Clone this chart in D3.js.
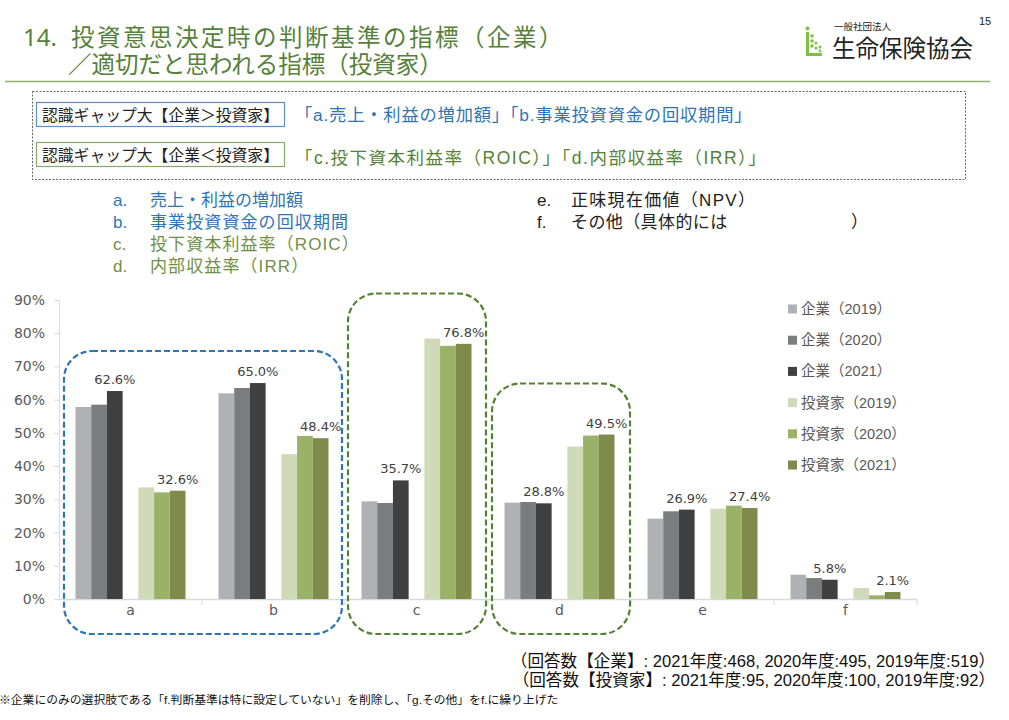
<!DOCTYPE html>
<html><head><meta charset="utf-8">
<script src="https://cdn.jsdelivr.net/npm/d3@7"></script>
<style>
body{margin:0;background:#fff;}
text{font-family:"Liberation Sans","Noto Sans CJK JP",sans-serif;}
</style></head>
<body><svg id="c" width="1009" height="720"></svg>
<script>
const categories = ["a","b","c","d","e","f"];
const seriesNames = ["企業（2019）","企業（2020）","企業（2021）","投資家（2019）","投資家（2020）","投資家（2021）"];
const corp2019 = [57.8, 61.9, 29.4, 29.0, 24.2, 7.3];
const corp2020 = [58.5, 63.5, 28.9, 29.2, 26.4, 6.3];
const corp2021 = [62.6, 65.0, 35.7, 28.8, 26.9, 5.8];
const inv2019 = [33.6, 43.6, 78.4, 45.9, 27.2, 3.3];
const inv2020 = [32.1, 49.1, 76.2, 49.2, 28.1, 1.1];
const inv2021 = [32.6, 48.4, 76.8, 49.5, 27.4, 2.1];
const yTicks = [0,10,20,30,40,50,60,70,80,90];
const colors = ["#b0b1b5","#7b7c7e","#404040","#cfdbb8","#9ab168","#7e8b4a"];
const slots = [0,1,2,4,5,6]; // empty slot 3 between groups
const labeled = [2,5];
const latin = "'DejaVu Sans','Noto Sans',sans-serif";

const svg = d3.select("#c");
const series = [corp2019,corp2020,corp2021,inv2019,inv2020,inv2021];

// ---- header ----
const tc = "#56813a";
svg.append("text").attr("x",23).attr("y",46).attr("font-size",24).attr("fill",tc)
  .style("font-family","'Noto Sans',sans-serif").text("14.");
svg.append("text").attr("x",71).attr("y",46).attr("font-size",23.5).attr("letter-spacing",2.5).attr("fill",tc)
  .text("投資意思決定時の判断基準の指標（企業）");
svg.append("text").attr("x",68).attr("y",73).attr("font-size",23.5).attr("letter-spacing",0).attr("fill",tc)
  .text("／適切だと思われる指標（投資家）");
svg.append("line").attr("x1",5).attr("x2",990).attr("y1",81.5).attr("y2",81.5)
  .attr("stroke","#8fb46e").attr("stroke-width",1.5);
svg.append("text").attr("x",979).attr("y",25).attr("font-size",11).attr("fill","#222").text("15");
// logo
const lg = svg.append("g").attr("fill","#7dc142");
lg.append("rect").attr("x",806).attr("y",32).attr("width",3).attr("height",24);
lg.append("rect").attr("x",806).attr("y",53).attr("width",16).attr("height",3);
[[807.5,28.5,2],[812,36,1.8],[812,41,1.8],[812,46,1.8],[816,43,1.6],[816,48,1.6],[820,47,1.4],[820,51,1.4]]
  .forEach(d=>lg.append("circle").attr("cx",d[0]).attr("cy",d[1]).attr("r",d[2]));
svg.append("text").attr("x",834).attr("y",30).attr("font-size",9.5).attr("fill","#222").text("一般社団法人");
svg.append("text").attr("x",832).attr("y",57).attr("font-size",23.5).attr("fill","#222").text("生命保険協会");

// ---- gap box ----
svg.append("rect").attr("x",32.5).attr("y",91.5).attr("width",933).attr("height",88)
  .attr("fill","none").attr("stroke","#666").attr("stroke-width",1).attr("stroke-dasharray","2,1.5");
svg.append("rect").attr("x",36.5).attr("y",102.5).attr("width",248).attr("height",24)
  .attr("fill","#fff").attr("stroke","#5b8fc7").attr("stroke-width",1.2);
svg.append("text").attr("x",42).attr("y",120.5).attr("font-size",15.8).attr("fill","#222").text("認識ギャップ大【企業＞投資家】");
svg.append("text").attr("x",295).attr("y",121).attr("font-size",17.3).attr("letter-spacing",0.8).attr("fill","#2e75b6").text("「a.売上・利益の増加額」「b.事業投資資金の回収期間」");
svg.append("rect").attr("x",36.5).attr("y",142.5).attr("width",248).attr("height",24)
  .attr("fill","#fff").attr("stroke","#86a86a").attr("stroke-width",1.2);
svg.append("text").attr("x",42).attr("y",160.5).attr("font-size",15.8).attr("fill","#222").text("認識ギャップ大【企業＜投資家】");
svg.append("text").attr("x",295).attr("y",164).attr("font-size",17.5).attr("letter-spacing",1.5).attr("fill","#548235").text("「c.投下資本利益率（ROIC）」「d.内部収益率（IRR）」");

// ---- option list ----
const listL = [["a.","売上・利益の増加額","#2e75b6"],["b.","事業投資資金の回収期間","#2e75b6"],
               ["c.","投下資本利益率（ROIC）","#6f8f45"],["d.","内部収益率（IRR）","#6f8f45"]];
listL.forEach((d,i)=>{
  svg.append("text").attr("x",113).attr("y",205.5+i*22.3).attr("font-size",17).attr("fill",d[2]).text(d[0]);
  svg.append("text").attr("x",150).attr("y",205.5+i*22.3).attr("font-size",17).attr("letter-spacing",i===0?0:1.1).attr("fill",d[2]).text(d[1]);
});
const listR = [["e.","正味現在価値（NPV）"],["f.","その他（具体的には"]];
listR.forEach((d,i)=>{
  svg.append("text").attr("x",537).attr("y",205.5+i*22.3).attr("font-size",17).attr("fill","#222").text(d[0]);
  svg.append("text").attr("x",571).attr("y",205.5+i*22.3).attr("font-size",17).attr("letter-spacing",i===0?1.3:0.4).attr("fill","#222").text(d[1]);
});
svg.append("text").attr("x",851).attr("y",227.8).attr("font-size",17).attr("fill","#222").text("）");

// ---- chart ----
const x0 = d3.scaleBand().domain(categories).range([59,917]).paddingInner(0).paddingOuter(0);
const x1 = d3.scaleBand().domain(d3.range(7)).range([0,x0.bandwidth()]).paddingOuter(1.05).paddingInner(0);
const y = d3.scaleLinear().domain([0,90]).range([599,300]);

// y axis
const ya = svg.append("g").attr("transform","translate(59,0)")
  .call(d3.axisLeft(y).tickValues(yTicks).tickFormat(d=>d+"%").tickSize(5).tickSizeOuter(0));
ya.select(".domain").attr("stroke","#d9d9d9");
ya.selectAll(".tick line").attr("stroke","#d9d9d9");
ya.selectAll(".tick text").attr("font-size",14).attr("fill","#595959").attr("x",-14)
  .style("font-family",latin);

// x axis
const xa = svg.append("g").attr("transform","translate(0,599)")
  .call(d3.axisBottom(x0).tickSize(0).tickSizeOuter(0));
xa.select(".domain").attr("stroke","#d9d9d9").attr("stroke-width",1.5);
xa.selectAll(".tick text").attr("font-size",14).attr("fill","#595959").attr("dy","0.95em")
  .style("font-family",latin);
svg.append("g").selectAll("line").data(categories).join("line")
  .attr("x1",(d,i)=>59+x0.step()*(i+1)).attr("x2",(d,i)=>59+x0.step()*(i+1))
  .attr("y1",599).attr("y2",605).attr("stroke","#d9d9d9");

// bars
const barsG = svg.append("g");
series.forEach((vals,si)=>{
  barsG.append("g").selectAll("rect").data(vals).join("rect")
    .attr("x",(d,i)=>x0(categories[i])+x1(slots[si]))
    .attr("width",x1.bandwidth())
    .attr("y",d=>y(d)).attr("height",d=>y(0)-y(d))
    .attr("fill",colors[si]);
});
labeled.forEach(si=>{
  svg.append("g").selectAll("text").data(series[si]).join("text")
    .attr("x",(d,i)=>x0(categories[i])+x1(slots[si])+x1.bandwidth()/2)
    .attr("y",d=>y(d)-7).attr("text-anchor","middle")
    .attr("font-size",13).attr("fill","#404040")
    .style("font-family",latin)
    .text(d=>d.toFixed(1)+"%");
});

// legend
seriesNames.forEach((n,i)=>{
  const yy = 309 + i*31.2;
  svg.append("rect").attr("x",788).attr("y",yy-4.5).attr("width",9).attr("height",9).attr("fill",colors[i]);
  svg.append("text").attr("x",801).attr("y",yy+5).attr("font-size",14.5).attr("fill","#595959").text(n);
});

// dashed highlight boxes
const hl = [[64,351,278,283,"#2e75b6"],[348,293.5,138,340.5,"#548235"],[492,383.5,138,250.5,"#548235"]];
hl.forEach(d=>svg.append("rect").attr("x",d[0]).attr("y",d[1]).attr("width",d[2]).attr("height",d[3])
  .attr("rx",28).attr("ry",28).attr("fill","none").attr("stroke",d[4]).attr("stroke-width",2.2)
  .attr("stroke-dasharray","6,3"));

// footnotes
svg.append("text").attr("x",995).attr("y",667).attr("text-anchor","end").attr("font-size",16.6).attr("fill","#111")
  .text("（回答数【企業】: 2021年度:468, 2020年度:495, 2019年度:519）");
svg.append("text").attr("x",995).attr("y",686).attr("text-anchor","end").attr("font-size",16.6).attr("fill","#111")
  .text("（回答数【投資家】: 2021年度:95, 2020年度:100, 2019年度:92）");
svg.append("text").attr("x",-1).attr("y",704).attr("font-size",11.8).attr("fill","#111")
  .text("※企業にのみの選択肢である「f.判断基準は特に設定していない」を削除し、「g.その他」をf.に繰り上げた");
</script></body></html>
